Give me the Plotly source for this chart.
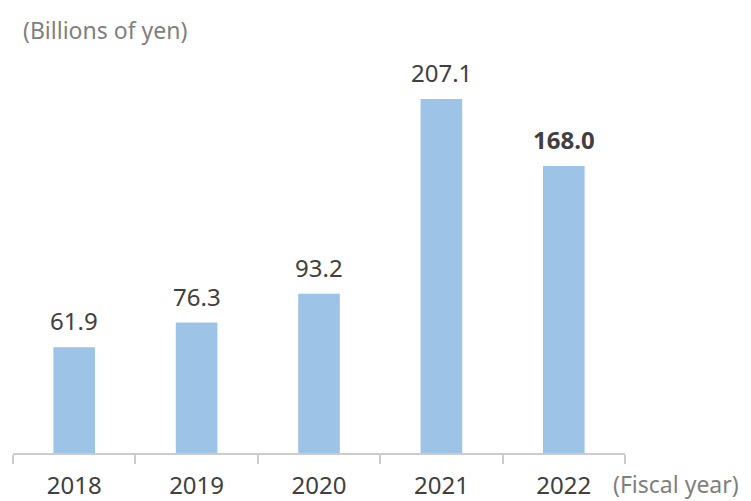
import plotly.graph_objects as go

years = [2018, 2019, 2020, 2021, 2022]
values = [61.9, 76.3, 93.2, 207.1, 168.0]
labels = ["61.9", "76.3", "93.2", "207.1", "<b>168.0</b>"]
tick_labels = ["2018", "2019", "2020", "2021", "2022"]

bar_color = "#9dc3e6"
text_color = "#404040"
note_color = "#7f7f7f"
axis_color = "#cccccc"
font_family = "Noto Sans"

fig = go.Figure()
fig.add_trace(go.Bar(x=years, y=values, marker=dict(color=bar_color, line=dict(width=0)),
                     hoverinfo="skip"))

for yr, v, lab in zip(years, values, labels):
    fig.add_annotation(x=yr, y=v, text=lab, showarrow=False, yanchor="bottom", yshift=8,
                       font=dict(size=24, color=text_color, family=font_family))

fig.add_annotation(xref="paper", yref="paper", x=0.0, y=1.0, xshift=8, yshift=2,
                   xanchor="left", yanchor="bottom",
                   text="(Billions of yen)", showarrow=False,
                   font=dict(size=23, color=note_color, family=font_family))
fig.add_annotation(xref="paper", yref="paper", x=1.0, y=0, xshift=-14, yshift=-31,
                   xanchor="left", yanchor="middle",
                   text="(Fiscal year)", showarrow=False,
                   font=dict(size=23, color=note_color, family=font_family))

boundaries = [years[0] - 0.5] + [y + 0.5 for y in years]

fig.update_layout(
    width=751, height=501,
    margin=dict(l=13, r=126, t=50, b=48, autoexpand=False),
    plot_bgcolor="white", paper_bgcolor="white",
    showlegend=False,
    bargap=0.66,
    xaxis=dict(type="linear", range=[years[0] - 0.5, years[-1] + 0.5],
               showline=True, linecolor=axis_color, linewidth=1.5,
               tickmode="array", tickvals=years, ticktext=tick_labels, ticks="",
               ticklabelstandoff=10,
               showgrid=False, zeroline=False, automargin=False, tickangle=0,
               tickfont=dict(size=24, color=text_color, family=font_family),
               minor=dict(tickmode="array", tickvals=boundaries, ticks="outside", ticklen=9,
                          tickcolor=axis_color, tickwidth=1.5, showgrid=False)),
    yaxis=dict(range=[0, 235.8], visible=False, showgrid=False, automargin=False),
)

fig.write_html("out.html")
